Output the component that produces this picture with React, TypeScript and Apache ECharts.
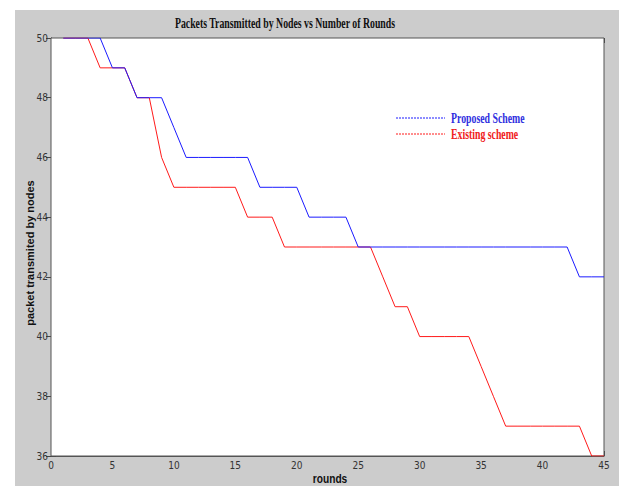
import React, { useEffect, useRef } from "react";
import * as echarts from "echarts";

const rounds: number[] = Array.from({ length: 45 }, (_, i) => i + 1);
const proposed: number[] = [
  50, 50, 50, 50, 49, 49, 48, 48, 48, 47,
  46, 46, 46, 46, 46, 46, 45, 45, 45, 45,
  44, 44, 44, 44, 43, 43, 43, 43, 43, 43,
  43, 43, 43, 43, 43, 43, 43, 43, 43, 43,
  43, 43, 42, 42, 42,
];
const existing: number[] = [
  50, 50, 50, 49, 49, 49, 48, 48, 46, 45,
  45, 45, 45, 45, 45, 44, 44, 44, 43, 43,
  43, 43, 43, 43, 43, 43, 42, 41, 41, 40,
  40, 40, 40, 40, 39, 38, 37, 37, 37, 37,
  37, 37, 37, 36, 36,
];
const seriesNames = ["Proposed Scheme", "Existing scheme"];
const titleText = "Packets Transmitted by Nodes vs Number of Rounds";
const xName = "rounds";
const yName = "packet transmited by nodes";

const BLUE = "#1a1aff";
const RED = "#ff1a1a";
const TICK_FONT = "'Liberation Sans Narrow', 'DejaVu Sans Condensed', 'Liberation Sans', sans-serif";

export default function App() {
  const ref = useRef<HTMLDivElement>(null);
  useEffect(() => {
    if (!ref.current) return;
    const chart = echarts.init(ref.current, undefined, { renderer: "svg" });
    const tickCommon = {
      axisTick: { show: true, inside: true, length: 5, lineStyle: { color: "#444" } },
      splitLine: { show: false },
      axisLine: { show: true, lineStyle: { color: "#555", width: 1 } },
    };
    chart.setOption({
      animation: false,
      backgroundColor: "#ffffff",
      grid: {
        left: 51,
        top: 38,
        width: 553,
        height: 418,
        show: true,
        backgroundColor: "#ffffff",
        borderColor: "#555",
        borderWidth: 1,
        z: 1,
      },
      xAxis: [
        {
          type: "value",
          min: 0,
          max: 45,
          interval: 5,
          position: "bottom",
          ...tickCommon,
          axisLabel: { show: true, fontSize: 10, color: "#333", margin: 4, fontFamily: TICK_FONT },
        },
        {
          type: "value",
          min: 0,
          max: 45,
          interval: 5,
          position: "top",
          ...tickCommon,
          axisLabel: { show: false },
        },
      ],
      yAxis: [
        {
          type: "value",
          min: 36,
          max: 50,
          interval: 2,
          position: "left",
          ...tickCommon,
          axisLabel: { show: true, fontSize: 10, color: "#333", margin: 3, fontFamily: TICK_FONT },
        },
        {
          type: "value",
          min: 36,
          max: 50,
          interval: 2,
          position: "right",
          ...tickCommon,
          axisLabel: { show: false },
        },
      ],
      series: [
        {
          name: seriesNames[1],
          type: "line",
          data: rounds.map((r, i) => [r, existing[i]]),
          symbol: "none",
          lineStyle: { color: RED, width: 1 },
          itemStyle: { color: RED },
          z: 3,
        },
        {
          name: seriesNames[0],
          type: "line",
          data: rounds.map((r, i) => [r, proposed[i]]),
          symbol: "none",
          lineStyle: { color: BLUE, width: 1 },
          itemStyle: { color: BLUE },
          z: 4,
        },
      ],
      graphic: [
        {
          type: "rect",
          z: -10,
          silent: true,
          shape: { x: 15, y: 10, width: 604, height: 476 },
          style: { fill: "#cccccc" },
        },
        {
          type: "text",
          x: 285,
          y: 23,
          scaleX: 0.7,
          style: {
            text: titleText,
            fill: "#111",
            font: "bold 14px 'Liberation Serif', 'Times New Roman', serif",
            textAlign: "center",
            textVerticalAlign: "middle",
          },
        },
        {
          type: "text",
          x: 330,
          y: 479,
          scaleX: 0.85,
          style: {
            text: xName,
            fill: "#111",
            font: "bold 12px 'Liberation Sans', Arial, sans-serif",
            textAlign: "center",
            textVerticalAlign: "middle",
          },
        },
        {
          type: "text",
          x: 30,
          y: 253,
          rotation: Math.PI / 2,
          style: {
            text: yName,
            fill: "#111",
            font: "bold 11px 'Liberation Sans', Arial, sans-serif",
            textAlign: "center",
            textVerticalAlign: "middle",
          },
        },
        {
          type: "line",
          z: 10,
          shape: { x1: 396, y1: 118, x2: 445, y2: 118 },
          style: { stroke: BLUE, lineWidth: 1, lineDash: [2, 1] },
        },
        {
          type: "text",
          z: 10,
          x: 451,
          y: 118,
          scaleX: 0.7,
          style: {
            text: seriesNames[0],
            fill: "#3030e0",
            font: "bold 14px 'Liberation Serif', 'Times New Roman', serif",
            textAlign: "left",
            textVerticalAlign: "middle",
          },
        },
        {
          type: "line",
          z: 10,
          shape: { x1: 396, y1: 134, x2: 445, y2: 134 },
          style: { stroke: RED, lineWidth: 1, lineDash: [2, 1] },
        },
        {
          type: "text",
          z: 10,
          x: 451,
          y: 134,
          scaleX: 0.7,
          style: {
            text: seriesNames[1],
            fill: "#f02020",
            font: "bold 14px 'Liberation Serif', 'Times New Roman', serif",
            textAlign: "left",
            textVerticalAlign: "middle",
          },
        },
      ],
    });
    return () => chart.dispose();
  }, []);
  return (
    <div
      ref={ref}
      style={{ position: "fixed", left: 0, top: 0, width: 619, height: 486 }}
    />
  );
}
